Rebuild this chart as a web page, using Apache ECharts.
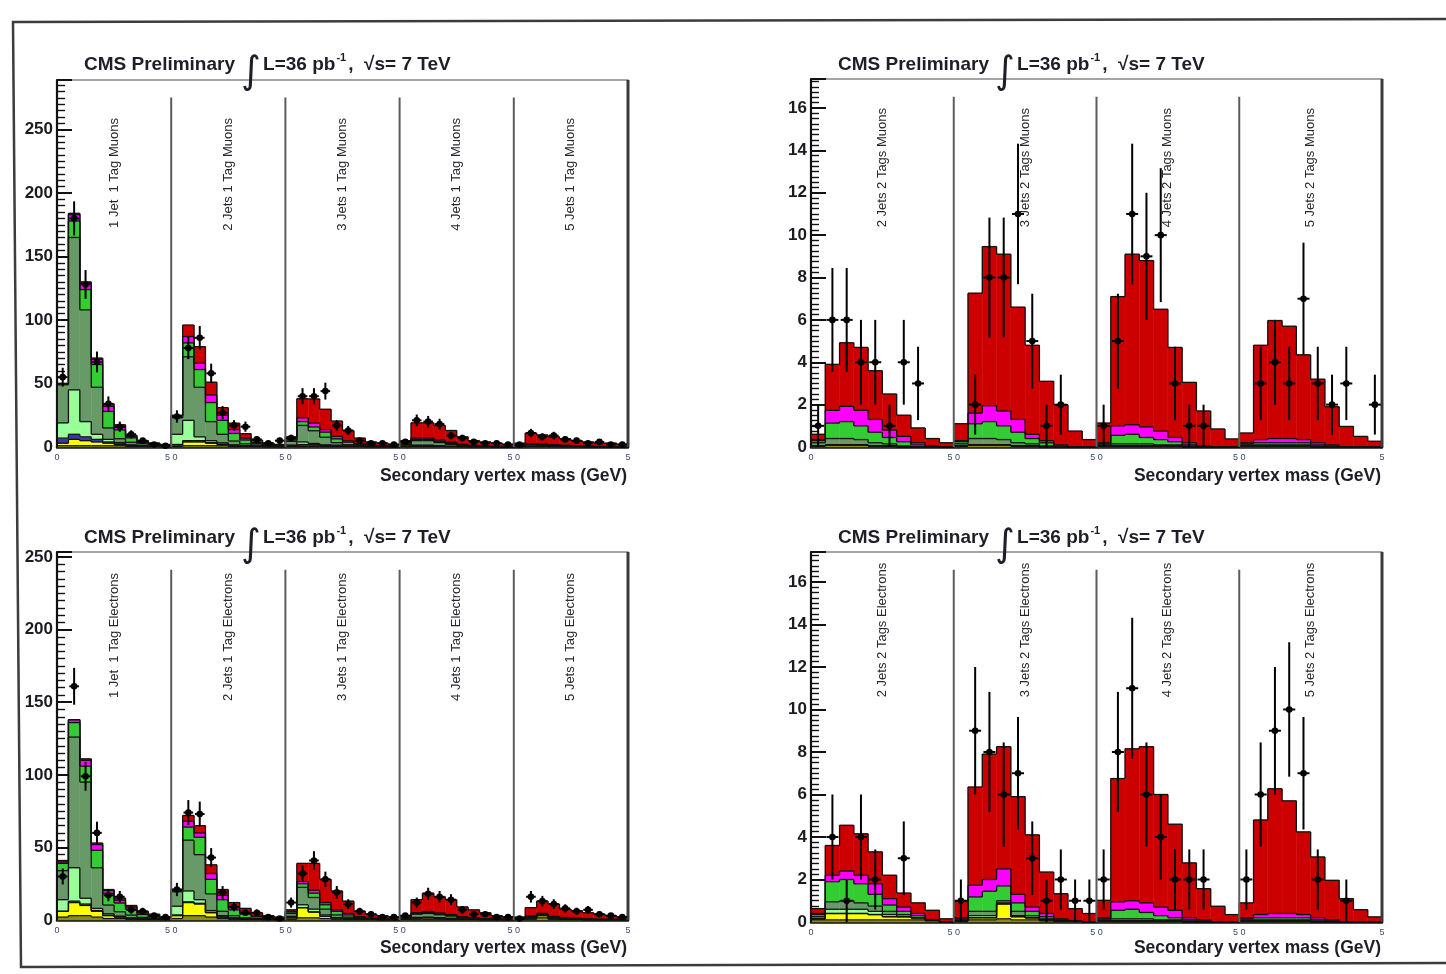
<!DOCTYPE html>
<html>
<head>
<meta charset="utf-8">
<script src="https://cdn.jsdelivr.net/npm/echarts@6.0.0/dist/echarts.min.js"></script>
<style>
  html, body { margin: 0; padding: 0; background: #ffffff; }
  #chart { width: 1446px; height: 974px; }
</style>
</head>
<body>
<div id="chart"></div>
<script>
// Secondary vertex mass, 0.5 GeV bins, sections of 10 bins per jet multiplicity.
// Stack order (bottom -> top): other, QCD, Z+jets, W+light, W+c, W+bb, single top, ttbar.

// ---- 1 tag, muons (5 jet bins x 10 mass bins)
const mu1Other = [1,1,1,1,1,1,.5,.3,.2,.1,  .5,1,1,1,1,.5,.3,.2,.1,.1,  .3,.5,.5,.5,.5,.3,.2,.1,.1,.1,  .2,.3,.3,.3,.2,.2,.1,.1,.1,.1,  .1,.2,.2,.2,.1,.1,.1,.1,0,0];
const mu1Qcd   = [2,5,4,3,2,1,.5,.3,.2,.1,  1,3,3,2,1,.5,.3,.2,.1,.1,  .5,1,1,.5,.5,.3,.2,.1,.1,.1,  .2,.5,.5,.3,.2,.1,.1,.1,0,0,  .1,.2,.2,.1,.1,.1,0,0,0,0];
const mu1Zjets = [4,4,3,2,1,.5,.2,.1,0,0,  .5,1,1,.5,.3,.2,.1,0,0,0,  .2,.5,.3,.2,.1,0,0,0,0,0,  0,.2,.2,.1,0,0,0,0,0,0,  0,0,0,0,0,0,0,0,0,0];
const mu1Wlf   = [12,35,12,4,2,1,.5,.3,.2,.1,  8,16,3,1.5,1,.5,.3,.2,.1,.1,  .5,2,1,.5,.3,.2,.1,0,0,0,  .3,.5,.5,.3,.2,.1,0,0,0,0,  .1,.2,.2,.1,.1,0,0,0,0,0];
const mu1Wc    = [30,120,88,37,9,3,2,1.5,1,.5,  13,50,39,15,6.7,3,1.5,.8,.5,.3,  3,13,10,6,2,1,.5,.3,.2,.1,  1,3.5,3.5,2.5,1.5,.7,.4,.2,.1,.1,  .3,1,.8,.6,.4,.3,.2,.1,.1,.1];
const mu1Wbb   = [1,13,16,18,13,7,3.5,1,.6,.4,  1,11,14,15,11,6,3,1.2,.6,.3,  1,3,3,4,3,2,1,.5,.3,.2,  .3,1,1,1,.8,.5,.3,.2,.1,.1,  .2,.4,.4,.4,.3,.2,.2,.1,.1,.1];
const mu1Stop  = [0,5,5,4,4,2,1,.5,.4,.3,  .5,5,5,6,4,3,1.5,.8,.5,.3,  1,3,3,2,2,1,.5,.5,.3,.2,  .3,1,1,1,.8,.5,.3,.2,.2,.1,  .2,.5,.5,.5,.4,.3,.2,.2,.1,.1];
const mu1Ttbar = [0,1,1,1,2,2,1,1,.6,.5,  .5,9,13,10,6,5,3.5,2,1.2,.8,  1.5,15,19,16,12,8.2,4.5,2.5,2,1.3,  2.7,12,12,11.5,9.3,5.9,3.8,3.2,2.5,1.6,  2,8.5,7.2,6.1,5.1,4,3.3,2.5,2.8,1.7];
const mu1Data  = [55,180,128,67,34,16,10,5,2,1,  24,78,86,58,27,17,16,6,3,5,  7,40,40,44,17,13,5,3,3,2,  4,21,20,18,9,7,4,3,3,2,  2,11,8,9,6,5,3,4,2,2];

// ---- 1 tag, electrons
const el1Other = [2,3,3,2,1,1,.5,.3,.2,.1,  1,3,3,2,1,.5,.3,.2,.1,.1,  .5,1.5,1.5,1,.5,.5,.3,.2,.1,.1,  .2,.5,.5,.5,.4,.3,.2,.1,.1,.1,  .2,.5,1.5,.5,.3,.2,.1,.1,.1,.1];
const el1Qcd   = [4,9,7,4,2,1,.5,.3,.2,.1,  2,9,8,3,1,.5,.3,.2,.1,.1,  1,7,4,1.5,1,.5,.3,.2,.1,.1,  .3,.8,1,.7,.5,.3,.2,.1,.1,.1,  .2,.8,1.5,.5,.3,.2,.1,.1,.1,.1];
const el1Zjets = [0,1,1,.5,.3,.2,.1,0,0,0,  .5,.5,.5,.3,.2,.1,0,0,0,0,  0,0,0,0,0,0,0,0,0,0,  0,0,0,0,0,0,0,0,0,0,  0,0,0,0,0,0,0,0,0,0];
const el1Wlf   = [8,23,4,1.5,1,.5,.3,.2,.1,.1,  6,7.5,2.5,1.2,.8,.4,.2,.1,.1,0,  1,2,2,1,0,0,0,0,0,0,  .2,.5,.5,.4,.3,.2,.1,0,0,0,  0,.2,.2,.2,.1,.1,0,0,0,0];
const el1Wc    = [20,90,80,28,6,3,2,1,.5,.3,  10,35,31,11.5,3,1.5,.7,.5,.3,.2,  2,12,8,4,2,1,.5,.3,.2,.1,  .8,2.2,2.5,2,1.5,.8,.5,.3,.2,.1,  .3,.6,.6,.5,.4,.3,.2,.1,.1,.1];
const el1Wbb   = [5,10,11,12,8,6,4,2,1,.5,  1,9,12,10,8,4,2.5,1.2,.5,.3,  1,2.5,3,3,2.5,1.5,.7,.3,.2,.1,  .3,.5,.7,.6,.5,.4,.3,.2,.1,.1,  .2,.3,.4,.4,.3,.2,.2,.1,.1,.1];
const el1Stop  = [1,2,4,4,2,2,1.5,1,.5,.3,  .5,4,3,4,3,1.5,1,.6,.3,.2,  .5,1.5,2,1.5,1,1,.5,.3,.2,.1,  .2,.5,.6,.6,.5,.3,.3,.2,.1,.1,  .2,.3,.4,.4,.3,.2,.2,.1,.1,.1];
const el1Ttbar = [1,0,1,1,.7,1.3,1.1,1.2,1.5,.6,  0,4,5,6,4,3.5,3,2.2,1.6,1.1,  1,12.5,18.5,16,13,8.5,3.7,2.7,2.2,1.5,  1,9,12.7,11.2,10.3,6.7,5.4,4.1,2.4,1.5,  .9,5.8,8.4,8.5,5.8,5.3,4.2,3.5,2.5,1.5];
const el1Data  = [30,161,99,60,17,16,7,6,3,2,  21,74,73,43,19,9,5,5,2,1,  12,32,41,28,19,11,6,4,2,2,  3,12,18,16,14,7,4,4,2,2,  1,16,13,11,8,6,7,4,3,2];

// ---- 2 tags, muons (4 jet bins x 10 mass bins)
const mu2Other = [.05,.1,.1,.1,.05,.05,0,0,0,0,  .05,.1,.1,.1,.05,.05,0,0,0,0,  .05,.05,.05,.05,.05,.05,0,0,0,0,  .05,.05,.05,.05,.05,0,0,0,0,0];
const mu2Qcd   = [0,0,0,0,0,0,0,0,0,0,  0,0,0,0,0,0,0,0,0,0,  0,0,0,0,0,0,0,0,0,0,  0,0,0,0,0,0,0,0,0,0];
const mu2Zjets = [0,0,0,0,0,0,0,0,0,0,  0,0,0,0,0,0,0,0,0,0,  0,0,0,0,0,0,0,0,0,0,  0,0,0,0,0,0,0,0,0,0];
const mu2Wlf   = [0,0,0,0,0,0,0,0,0,0,  0,0,0,0,0,0,0,0,0,0,  0,0,0,0,0,0,0,0,0,0,  0,0,0,0,0,0,0,0,0,0];
const mu2Wc    = [.15,.3,.3,.25,.15,.1,.05,0,0,0,  .1,.3,.3,.25,.15,.1,.05,0,0,0,  .05,.1,.1,.1,.05,.05,.05,0,0,0,  .05,.05,.05,.05,.05,.05,0,0,0,0];
const mu2Wbb   = [.1,.73,.8,.65,.5,.3,.2,.1,.02,0,  .1,.7,.8,.65,.5,.25,.15,.05,0,0,  .05,.4,.45,.3,.25,.15,.05,0,0,0,  .05,.1,.1,.1,.1,.05,.05,0,0,0];
const mu2Stop  = [.05,.6,.72,.73,.6,.35,.25,.1,.03,0,  .05,.5,.75,.7,.6,.2,.1,.05,0,0,  .05,.45,.45,.5,.4,.2,.1,.05,0,0,  .05,.15,.2,.2,.15,.1,.05,0,0,0];
const mu2Ttbar = [.25,2.17,3,2.97,2.3,1.7,1,.7,.35,.2,  .8,5.66,7.51,7.4,5.3,4.2,2.8,1.9,.75,.35,  .93,6.1,8.05,7.85,5.75,4.25,2.85,1.65,.85,.38,  .46,4.45,5.57,5.3,4,3,1.8,.97,.5,.27];
const mu2Data  = [1,6,6,4,4,1,4,3,0,0,  0,2,8,8,11,5,1,2,0,0,  1,5,11,9,10,3,1,1,0,0,  0,3,4,3,7,3,2,3,0,2];

// ---- 2 tags, electrons
const el2Other = [.1,.1,.1,.1,.1,.1,.1,.1,.05,0,  .05,.1,.1,.15,.1,.1,.05,.05,.03,0,  .05,.05,.05,.05,.05,.05,0,0,0,0,  .05,.05,.05,.05,.05,0,0,0,0,0];
const el2Qcd   = [.05,.3,.3,.3,.25,.15,.15,.1,.05,0,  0,.1,.1,.7,.15,.1,.05,0,0,0,  0,0,0,0,0,0,0,0,0,0,  0,0,0,0,0,0,0,0,0,0];
const el2Zjets = [0,0,0,0,0,0,0,0,0,0,  0,0,0,0,0,0,0,0,0,0,  0,0,0,0,0,0,0,0,0,0,  0,0,0,0,0,0,0,0,0,0];
const el2Wlf   = [0,.2,.2,.2,.15,.1,0,0,0,0,  0,.1,.1,.05,.05,0,0,0,0,0,  0,0,0,0,0,0,0,0,0,0,  0,0,0,0,0,0,0,0,0,0];
const el2Wc    = [.1,.35,.4,.3,.25,.15,.1,0,0,0,  .05,.2,.2,.1,.2,.1,.05,0,0,0,  .05,.1,.1,.1,.05,.05,.05,0,0,0,  .05,.05,.05,.05,.05,.05,0,0,0,0];
const el2Wbb   = [.1,.95,1,.9,.55,.3,.15,.1,0,0,  .05,.68,.95,.7,.4,.2,.1,.05,0,0,  .05,.4,.45,.3,.2,.1,.05,.05,0,0,  .05,.1,.1,.1,.1,.05,.05,0,0,0];
const el2Stop  = [.05,.3,.4,.4,.5,.3,.2,.1,0,0,  .05,.55,.55,.8,.4,.2,.15,.05,0,0,  .05,.4,.4,.45,.4,.35,.1,.05,0,0,  .05,.15,.2,.2,.15,.1,.05,0,0,0];
const el2Ttbar = [.23,1.4,2.15,1.95,1.5,1.1,.66,.5,.45,.15,  .8,4.62,5.9,5.75,4.6,3.4,1.95,1.18,.6,.4,  .82,5.8,7.15,7.35,5.3,4.05,2.58,1.47,.74,.35,  .7,4.45,5.87,5.3,3.89,2.86,1.86,1.1,.58,.24];
const el2Data  = [0,4,1,4,2,0,3,0,0,0,  1,9,8,6,7,3,1,2,1,1,  2,8,11,6,4,2,2,2,0,0,  2,6,9,10,7,2,0,1,0,0];

// ---- section captions and x tick labels
const mu1Labels = ['1 Jet  1 Tag Muons', '2 Jets 1 Tag Muons', '3 Jets 1 Tag Muons', '4 Jets 1 Tag Muons', '5 Jets 1 Tag Muons'];
const el1Labels = ['1 Jet  1 Tag Electrons', '2 Jets 1 Tag Electrons', '3 Jets 1 Tag Electrons', '4 Jets 1 Tag Electrons', '5 Jets 1 Tag Electrons'];
const mu2Labels = ['2 Jets 2 Tags Muons', '3 Jets 2 Tags Muons', '4 Jets 2 Tags Muons', '5 Jets 2 Tags Muons'];
const el2Labels = ['2 Jets 2 Tags Electrons', '3 Jets 2 Tags Electrons', '4 Jets 2 Tags Electrons', '5 Jets 2 Tags Electrons'];
const xTicks5 = ['0', '5 0', '5 0', '5 0', '5 0', '5'];
const xTicks4 = ['0', '5 0', '5 0', '5 0', '5'];

const BIN = 0.5;          // GeV per bin
const SECTION = 5;        // GeV per jet-multiplicity section
const COLORS = ['#8c8c1e', '#ffff00', '#3535b5', '#99ff99', '#679a67', '#33cc33', '#ff00ff', '#cc0000'];
const FONT = 'Liberation Sans, Arial, sans-serif';

const panels = [
  { grid: { left: 57,  top: 80,  width: 571, height: 367 }, yMax: 289,   yInt: 50, minor: 10,
    layers: [mu1Other, mu1Qcd, mu1Zjets, mu1Wlf, mu1Wc, mu1Wbb, mu1Stop, mu1Ttbar], data: mu1Data,
    labels: mu1Labels, ticks: xTicks5, labelTop: 259 },
  { grid: { left: 811, top: 79,  width: 571, height: 368 }, yMax: 17.37, yInt: 2,  minor: 8,
    layers: [mu2Other, mu2Qcd, mu2Zjets, mu2Wlf, mu2Wc, mu2Wbb, mu2Stop, mu2Ttbar], data: mu2Data,
    labels: mu2Labels, ticks: xTicks4, labelTop: 16.0 },
  { grid: { left: 57,  top: 552, width: 571, height: 368 }, yMax: 253.5, yInt: 50, minor: 10,
    layers: [el1Other, el1Qcd, el1Zjets, el1Wlf, el1Wc, el1Wbb, el1Stop, el1Ttbar], data: el1Data,
    labels: el1Labels, ticks: xTicks5, labelTop: 239 },
  { grid: { left: 811, top: 552, width: 571, height: 370 }, yMax: 17.41, yInt: 2,  minor: 8,
    layers: [el2Other, el2Qcd, el2Zjets, el2Wlf, el2Wc, el2Wbb, el2Stop, el2Ttbar], data: el2Data,
    labels: el2Labels, ticks: xTicks4, labelTop: 16.9 }
];

const grids = [], xAxes = [], yAxes = [], series = [];

panels.forEach((p, pi) => {
  const nBins = p.data.length;
  const xMax = nBins * BIN;
  const nSec = p.labels.length;
  // rows for the stacked histogram: [bin, layer0 .. layer7]
  const rows = p.data.map((_, i) => [i].concat(p.layers.map(l => l[i])));
  const cumAt = i => {
    const out = []; let c = 0;
    for (let j = 0; j < p.layers.length; j++) { c += (i >= 0 && i < nBins) ? p.layers[j][i] : 0; out.push(c); }
    return out;
  };

  grids.push(Object.assign({ show: true, borderColor: '#4a4a4a', borderWidth: 1.2, containLabel: false }, p.grid));

  xAxes.push({
    gridIndex: pi, type: 'value', min: 0, max: xMax, interval: SECTION,
    axisLine: { show: true, onZero: false, lineStyle: { color: '#111', width: 2.5 } },
    axisTick: { show: false }, splitLine: { show: false },
    axisLabel: {
      margin: 6, fontSize: 9, color: '#3d4670', fontFamily: FONT,
      formatter: v => p.ticks[Math.round(v / SECTION)] || ''
    }
  });

  yAxes.push({
    gridIndex: pi, type: 'value', min: 0, max: p.yMax, interval: p.yInt,
    axisLine: { show: true, lineStyle: { color: '#111', width: 2.2 } },
    axisTick: { show: true, inside: true, length: 15, lineStyle: { color: '#111', width: 2 } },
    minorTick: { show: true, splitNumber: p.minor, length: 8, lineStyle: { color: '#111', width: 1.4 } },
    splitLine: { show: false },
    axisLabel: {
      margin: 4, fontSize: 17, fontWeight: 'bold', color: '#1b1b22', fontFamily: FONT,
      formatter: v => (Math.abs(v / p.yInt - Math.round(v / p.yInt)) < 1e-6) ? String(v) : ''
    }
  });

  // stacked fills
  series.push({
    type: 'custom', xAxisIndex: pi, yAxisIndex: pi, z: 2, silent: true,
    data: rows,
    renderItem: (params, api) => {
      const i = api.value(0), x0 = i * BIN, x1 = x0 + BIN;
      let c = 0; const children = [];
      for (let j = 0; j < p.layers.length; j++) {
        const v = api.value(j + 1);
        if (!(v > 0)) continue;
        const a = api.coord([x0, c]), b = api.coord([x1, c + v]);
        children.push({ type: 'rect', shape: { x: a[0], y: b[1], width: b[0] - a[0], height: a[1] - b[1] },
                        style: { fill: COLORS[j], stroke: COLORS[j], lineWidth: 0.5 } });
        c += v;
      }
      return { type: 'group', children };
    }
  });

  // step outlines of every stacked component
  series.push({
    type: 'custom', xAxisIndex: pi, yAxisIndex: pi, z: 3, silent: true,
    data: rows,
    renderItem: (params, api) => {
      const i = api.value(0), x0 = i * BIN, x1 = x0 + BIN;
      const cur = cumAt(i), prev = cumAt(i - 1);
      const children = [];
      const st = { stroke: '#111', lineWidth: 1.3 };
      for (let j = 0; j < cur.length; j++) {
        const a = api.coord([x0, cur[j]]), b = api.coord([x1, cur[j]]), c = api.coord([x0, prev[j]]);
        children.push({ type: 'line', shape: { x1: a[0], y1: a[1], x2: b[0], y2: b[1] }, style: st });
        children.push({ type: 'line', shape: { x1: c[0], y1: c[1], x2: a[0], y2: a[1] }, style: st });
        if (i === nBins - 1) {
          const d = api.coord([x1, 0]);
          children.push({ type: 'line', shape: { x1: b[0], y1: b[1], x2: d[0], y2: d[1] }, style: st });
        }
      }
      return { type: 'group', children };
    }
  });

  // section dividers and the thick right frame edge
  series.push({
    type: 'custom', xAxisIndex: pi, yAxisIndex: pi, z: 4, silent: true,
    data: Array.from({ length: nSec }, (_, k) => [(k + 1) * SECTION]),
    renderItem: (params, api) => {
      const x = api.value(0);
      const last = x >= xMax - 1e-9;
      const a = api.coord([x, 0]), b = api.coord([x, last ? p.yMax : p.yMax * 0.952]);
      return { type: 'line', shape: { x1: a[0], y1: a[1], x2: b[0], y2: b[1] },
               style: { stroke: last ? '#3a3a3a' : '#5c5c5c', lineWidth: last ? 3 : 2 } };
    }
  });

  // section captions
  series.push({
    type: 'custom', xAxisIndex: pi, yAxisIndex: pi, z: 5, silent: true,
    data: p.labels.map((t, k) => [k * SECTION + SECTION / 2, p.labelTop, k]),
    renderItem: (params, api) => {
      const pt = api.coord([api.value(0), api.value(1)]);
      return { type: 'text', x: pt[0], y: pt[1], rotation: Math.PI / 2,
               style: { text: p.labels[api.value(2)], fontSize: 13, fontFamily: FONT, fill: '#26262e',
                        align: 'right', verticalAlign: 'middle' } };
    }
  });

  // data points with Poisson error bars and bin-width x errors
  series.push({
    type: 'custom', xAxisIndex: pi, yAxisIndex: pi, z: 6, silent: true,
    data: p.data.map((v, i) => [i, v]),
    renderItem: (params, api) => {
      const i = api.value(0), n = api.value(1);
      if (!(n > 0)) return null;
      const e = Math.sqrt(n);
      const xc = i * BIN + BIN / 2;
      const l = api.coord([i * BIN + 0.04, n]), r = api.coord([i * BIN + BIN - 0.04, n]);
      const lo = api.coord([xc, Math.max(n - e, 0)]), hi = api.coord([xc, n + e]);
      const c = api.coord([xc, n]);
      const st = { stroke: '#000', lineWidth: 2 };
      return { type: 'group', children: [
        { type: 'line', shape: { x1: l[0], y1: l[1], x2: r[0], y2: r[1] }, style: st },
        { type: 'line', shape: { x1: lo[0], y1: lo[1], x2: hi[0], y2: hi[1] }, style: st },
        { type: 'circle', shape: { cx: c[0], cy: c[1], r: 3.3 }, style: { fill: '#000' } }
      ] };
    }
  });
});

// panel headers and axis titles
function header(x, y) {
  return {
    type: 'text', x, y, z: 10,
    style: {
      text: '{a|CMS Preliminary }{i|\u222B}{a|L=36 pb}{s|-1}{a|,  \u221As= 7 TeV}',
      align: 'left', verticalAlign: 'middle',
      rich: {
        a: { fontFamily: FONT, fontWeight: 'bold', fontSize: 19, fill: '#1e1e28', lineHeight: 22, verticalAlign: 'middle' },
        i: { fontFamily: 'DejaVu Sans, sans-serif', fontSize: 38, fill: '#1e1e28', lineHeight: 42, padding: [10, 2, 0, 1], verticalAlign: 'top' },
        s: { fontFamily: FONT, fontWeight: 'bold', fontSize: 11, fill: '#1e1e28', lineHeight: 12, padding: [8, 2, 0, 1], verticalAlign: 'top' }
      }
    }
  };
}
function xTitle(x, y) {
  return { type: 'text', x, y, z: 10,
    style: { text: 'Secondary vertex mass (GeV)', align: 'right', verticalAlign: 'middle',
             fontFamily: FONT, fontWeight: 'bold', fontSize: 17.5, fill: '#1e1e28' } };
}

const graphic = [
  header(84, 65), header(838, 65), header(84, 538), header(838, 538),
  xTitle(627, 476), xTitle(1381, 476), xTitle(627, 948), xTitle(1381, 948),
  // slide frame around the four panels
  { type: 'polyline', z: 0, shape: { points: [[1446, 19], [13, 22], [21, 967], [1446, 963]] },
    style: { stroke: '#3c3c3c', lineWidth: 2.5, fill: null } }
];

const chart = echarts.init(document.getElementById('chart'), null, { renderer: 'canvas' });
chart.setOption({
  animation: false,
  backgroundColor: '#ffffff',
  grid: grids, xAxis: xAxes, yAxis: yAxes, series, graphic
});
</script>
</body>
</html>
